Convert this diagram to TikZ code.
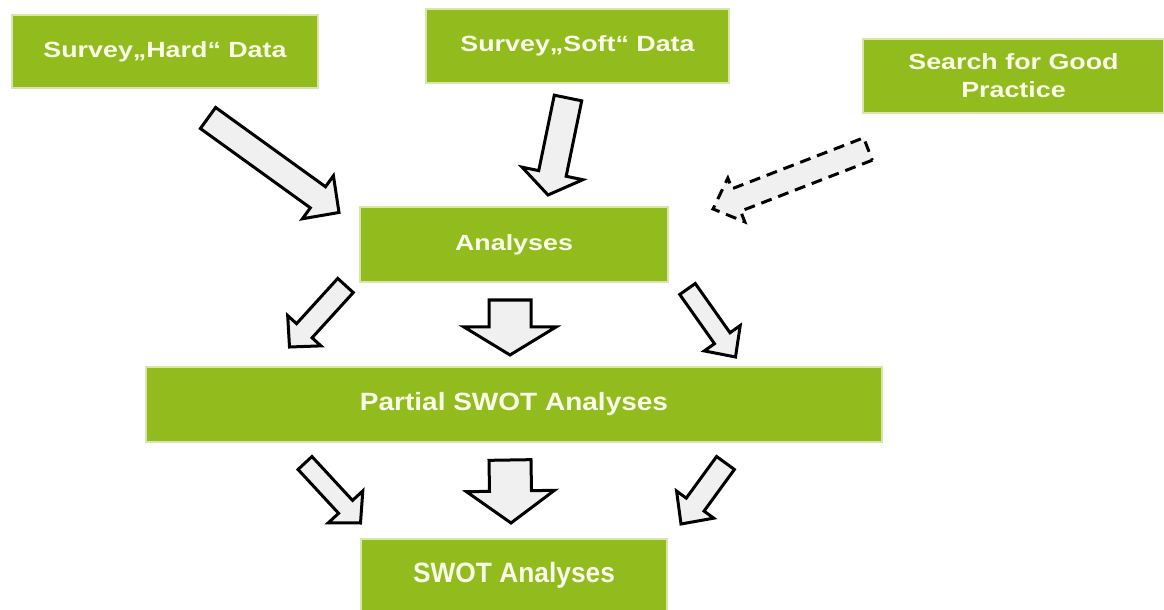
\documentclass[tikz,border=0pt]{standalone}
\usepackage{fontspec}
\setmainfont{Liberation Sans}
\newfontfamily\topfont[FakeStretch=1.22]{Liberation Sans}
\newfontfamily\partfont[FakeStretch=1.12]{Liberation Sans}
\newfontfamily\swotfont[FakeStretch=0.94]{Liberation Sans}
\usepackage{tikz}
\usetikzlibrary{calc}
\usepackage{xcolor}

\definecolor{boxgreen}{RGB}{146,188,30}
\definecolor{boxedge}{RGB}{216,230,172}
\definecolor{boxtext}{RGB}{250,252,234}
\definecolor{arrowfill}{RGB}{240,240,240}

% block arrow: [style] tail, tip, shaft half width, head half width, head length
\newcommand{\blockarrow}[6][]{%
  \path ($(#3)!#6!(#2)$) coordinate (headbase);
  \draw[blockarrow,#1]
    ($(#2)!#4!90:(#3)$) -- ($(headbase)!#4!90:(#3)$) -- ($(headbase)!#5!90:(#3)$)
    -- (#3) -- ($(headbase)!#5!-90:(#3)$) -- ($(headbase)!#4!-90:(#3)$)
    -- ($(#2)!#4!-90:(#3)$) -- cycle;
}

\begin{document}
\begin{tikzpicture}[
  x=1bp, y=-1bp,
  box/.style={fill=boxgreen, draw=boxedge, line width=1.2bp, text=boxtext, inner sep=0pt, align=center},
  toplabel/.style={font={\topfont\bfseries\fontsize{22bp}{28bp}\selectfont}},
  partlabel/.style={font={\partfont\bfseries\fontsize{25bp}{30bp}\selectfont}},
  swotlabel/.style={font={\swotfont\bfseries\fontsize{28bp}{32bp}\selectfont}},
  blockarrow/.style={fill=arrowfill, draw=black, line width=3bp, line join=miter},
  dasharrow/.style={dash pattern=on 11bp off 7bp}
]

\fill[white] (0,0) rectangle (1164,610);
\useasboundingbox (0,0) rectangle (1164,610);

% Input boxes
\node[box, toplabel, minimum width=306bp, minimum height=73bp] (hard) at (165,51.5) {Survey„Hard“ Data};
\node[box, toplabel, minimum width=303bp, minimum height=74bp] (soft) at (577.5,46) {Survey„Soft“ Data};
\node[box, toplabel, minimum width=301bp, minimum height=74bp] (search) at (1013.5,76) {Search for Good\\Practice};

% Analysis levels
\node[box, toplabel, minimum width=308bp, minimum height=75bp] (analyses) at (514,244.5) {Analyses};
\node[box, partlabel, minimum width=736bp, minimum height=75bp] (partial) at (514,404.5) {Partial SWOT Analyses};
\node[box, swotlabel, minimum width=306bp, minimum height=73bp] (swot) at (514,575.5) {SWOT Analyses};

% Arrow ends
\coordinate (hardtail) at (208,118);    \coordinate (hardtip) at (339,212.5);
\coordinate (softtail) at (568,98);     \coordinate (softtip) at (548,195);
\coordinate (searchtail) at (868,149);  \coordinate (searchtip) at (713,209);
\coordinate (anltail) at (345.5,285.5); \coordinate (anltip) at (289.5,347);
\coordinate (anctail) at (510,300);     \coordinate (anctip) at (510,355);
\coordinate (anrtail) at (687.5,289);   \coordinate (anrtip) at (735.5,357);
\coordinate (pltail) at (305,463);      \coordinate (pltip) at (360.5,523);
\coordinate (pctail) at (510,460);      \coordinate (pctip) at (511,523);
\coordinate (prtail) at (725.5,463);    \coordinate (prtip) at (681,524);

% Inputs into analyses
\blockarrow{hardtail}{hardtip}{13bp}{26.5bp}{26bp}
\blockarrow{softtail}{softtip}{14bp}{31bp}{22bp}
\blockarrow[dasharrow]{searchtail}{searchtip}{12bp}{23.5bp}{25bp}

% Analyses into partial SWOT
\blockarrow{anltail}{anltip}{10.5bp}{22.5bp}{22bp}
\blockarrow{anctail}{anctip}{21bp}{46bp}{28bp}
\blockarrow{anrtail}{anrtip}{9.5bp}{22bp}{23bp}

% Partial SWOT into SWOT
\blockarrow{pltail}{pltip}{9.5bp}{23.5bp}{22bp}
\blockarrow{pctail}{pctip}{21bp}{44bp}{32bp}
\blockarrow{prtail}{prtip}{11bp}{23bp}{24bp}

\end{tikzpicture}
\end{document}
